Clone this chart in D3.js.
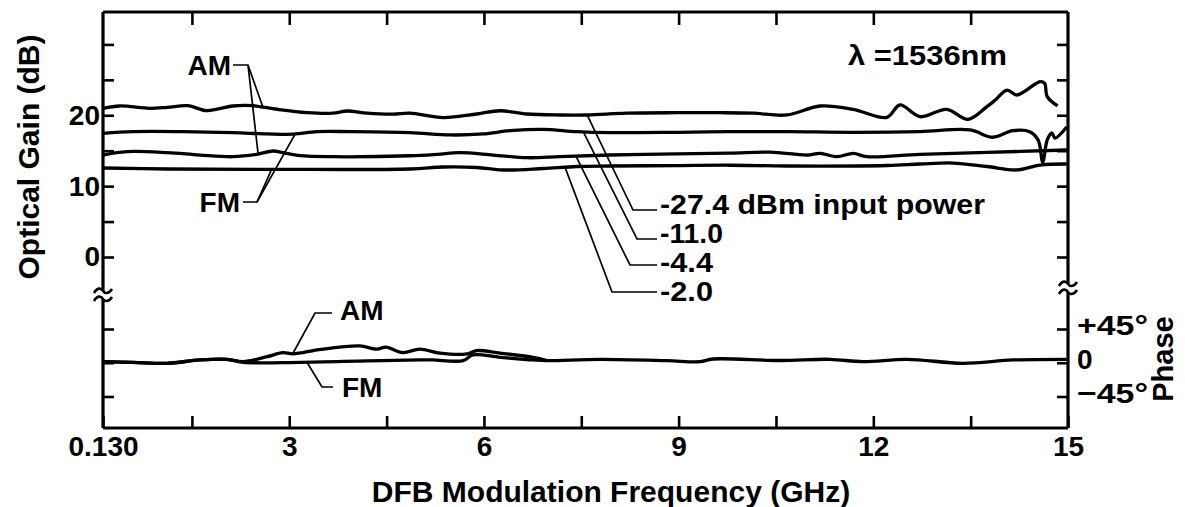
<!DOCTYPE html>
<html>
<head>
<meta charset="utf-8">
<script src="https://cdn.jsdelivr.net/npm/d3@7"></script>
<style>
  html, body { margin: 0; padding: 0; background: #fff; }
  svg { display: block; }
  text { font-family: "Liberation Sans", Arial, Helvetica, sans-serif; font-weight: bold; fill: #000; }
</style>
</head>
<body>
<svg id="chart" width="1185" height="507"></svg>
<script>
// ---------------- DATA ----------------
const xTickValues = [0.13, 1.5, 3, 4.5, 6, 7.5, 9, 10.5, 12, 13.5, 15];
const xTickLabels = ["0.130", "", "3", "", "6", "", "9", "", "12", "", "15"];
const gainTickValues = [0, 5, 10, 15, 20, 25, 30];
const gainTickLabels = ["0", "", "10", "", "20", "", ""];
const phaseTickValues = [-45, 0, 45];
const phaseTickLabels = ["\u221245\u00B0", "0", "+45\u00B0"];

// -27.4 dBm input power (AM)
const am274Freq = [0.13,0.39,0.85,1.12,1.44,1.73,2.13,2.44,2.81,3.27,3.67,3.89,4.20,4.60,4.86,5.37,5.89,6.25,6.66,7.17,7.59,8.20,8.97,9.64,10.15,10.67,11.18,11.69,12.21,12.41,12.72,13.13,13.46,13.75,13.88,14.06,14.21,14.57,14.64,14.68,14.84];
const am274Gain = [20.98,21.31,20.98,21.12,21.35,20.66,21.31,21.35,20.85,20.38,20.29,20.60,20.29,20.15,20.29,19.67,20.18,20.64,20.18,20.04,20.04,20.29,20.36,20.36,20.29,20.04,21.31,20.84,19.71,21.45,19.80,20.84,19.43,21.21,22.15,23.56,22.86,24.74,24.51,22.63,21.31];
// -11.0 dBm (FM)
const fm110Freq = [0.13,0.59,1.36,2.13,2.66,3.06,3.43,3.94,4.86,5.48,5.99,6.40,6.91,7.43,7.94,8.97,9.79,10.67,11.69,12.72,13.49,13.84,14.15,14.41,14.54,14.61,14.68,14.75,14.80,14.98];
const fm110Gain = [17.45,17.69,17.69,17.55,17.37,17.33,17.69,17.69,17.55,17.22,17.36,17.82,18.02,17.69,17.55,17.60,17.69,17.69,17.60,17.69,17.93,16.90,17.82,17.69,16.51,13.40,16.51,17.50,16.79,18.34];
// -4.4 dBm (AM)
const am44Freq = [0.13,0.50,1.12,1.62,2.13,2.50,2.75,2.90,3.17,3.67,4.86,5.28,5.63,6.14,6.66,7.17,7.94,8.97,9.79,10.41,10.98,11.18,11.44,11.69,11.90,12.72,13.75,14.98];
const am44Gain = [14.39,14.87,14.73,14.39,14.15,14.49,14.96,14.73,14.29,14.15,14.29,14.49,14.72,14.39,14.01,14.15,14.39,14.55,14.65,14.80,14.39,14.63,14.15,14.63,14.15,14.49,14.75,15.10];
// -2.0 dBm (FM)
const fm20Freq = [0.13,1.12,2.66,4.86,5.37,5.89,6.29,6.91,7.43,7.94,8.97,9.79,10.67,12.21,12.72,13.23,13.75,14.21,14.57,14.98];
const fm20Gain = [12.56,12.42,12.37,12.42,12.70,12.63,12.28,12.49,12.77,12.84,12.90,12.95,12.84,12.91,13.12,13.26,12.77,12.28,12.98,13.12];

// Phase (degrees)
const phaseAMFreq = [0.13,0.59,1.12,1.62,2.04,2.29,2.66,2.90,3.06,3.43,3.78,4.09,4.35,4.49,4.75,5.01,5.32,5.74,5.89,6.25,6.76,6.97];
const phaseAMDeg  = [1.4,0.6,-0.7,3.7,4.6,1.4,8.1,13.5,11.8,17.1,20.8,22.5,18.1,20.8,13.5,18.1,12.7,11.8,16.2,12.7,7.3,2.8];
const phaseFMFreq = [0.13,0.59,1.12,1.62,2.04,2.29,3.17,4.20,5.01,5.21,5.68,5.83,6.25,6.76,6.97,7.79,8.82,9.33,9.53,10.56,11.33,11.84,12.52,13.38,14.15,14.98];
const phaseFMDeg  = [1.4,0.6,-0.7,3.7,4.6,0.6,0.6,2.4,3.7,3.7,2.8,10.4,7.3,3.7,2.8,4.6,2.8,1.4,5.0,3.0,4.6,1.4,4.6,-0.7,3.7,4.6];

const powerLabels = ["-27.4 dBm input power", "-11.0", "-4.4", "-2.0"];

// ---------------- CHART ----------------
const svg = d3.select("#chart");
const L = 103, R = 1068, T = 12, B = 428;

const x = d3.scaleLinear().domain([0.13, 15]).range([L, R]);
const yG = d3.scaleLinear().domain([0, 30]).range([257, 44.4]);
const yP = d3.scaleLinear().domain([-45, 45]).range([396.5, 329]);

const zip = (a, b) => a.map((v, i) => [v, b[i]]);

// Axes (ticks inward)
function styleAxis(g) {
  g.select(".domain").remove();
  g.selectAll(".tick line").attr("stroke", "#000").attr("stroke-width", 2.6);
  g.selectAll(".tick text").style("font-size", "28px").style("font-family", "'Liberation Sans', Arial, sans-serif").style("font-weight", "bold").attr("fill", "#000");
}
svg.append("g").attr("transform", `translate(0,${B})`)
  .call(d3.axisBottom(x).tickValues(xTickValues).tickSize(-12).tickPadding(8)
    .tickFormat((d, i) => xTickLabels[i]))
  .call(styleAxis);
svg.append("g").attr("transform", `translate(0,${T})`)
  .call(d3.axisTop(x).tickValues(xTickValues.slice(1, -1)).tickSize(-13).tickFormat(""))
  .call(styleAxis);
svg.append("g").attr("transform", `translate(${L},0)`)
  .call(d3.axisLeft(yG).tickValues(gainTickValues).tickSize(-11).tickPadding(3)
    .tickFormat((d, i) => gainTickLabels[i]))
  .call(styleAxis);
svg.append("g").attr("transform", `translate(${R},0)`)
  .call(d3.axisRight(yG).tickValues(gainTickValues).tickSize(-11).tickFormat(""))
  .call(styleAxis);
svg.append("g").attr("transform", `translate(${L},0)`)
  .call(d3.axisLeft(yP).tickValues(phaseTickValues).tickSize(-11).tickFormat(""))
  .call(styleAxis);
svg.append("g").attr("transform", `translate(${R},0)`)
  .call(d3.axisRight(yP).tickValues(phaseTickValues).tickSize(-11).tickPadding(9)
    .tickFormat((d, i) => phaseTickLabels[i]))
  .call(styleAxis)
  .call(g => g.selectAll(".tick text").attr("dy", "0.2em")
    .each(function (d) { if (d !== 0) d3.select(this).attr("textLength", 71).attr("lengthAdjust", "spacingAndGlyphs"); }));

// Frame with axis breaks
const frame = svg.append("g").attr("fill", "none").attr("stroke", "#000").attr("stroke-width", 3.2);
frame.append("line").attr("x1", L).attr("x2", R).attr("y1", T).attr("y2", T);
frame.append("line").attr("x1", L).attr("x2", R).attr("y1", B).attr("y2", B);
function vAxisWithBreak(xx, b1, b2) {
  frame.append("line").attr("x1", xx).attr("x2", xx).attr("y1", T).attr("y2", b1);
  frame.append("line").attr("x1", xx).attr("x2", xx).attr("y1", b2).attr("y2", B);
  const sq = (yy) => `M${xx - 9},${yy + 2} C${xx - 5},${yy - 5} ${xx - 1},${yy - 2} ${xx},${yy} S${xx + 5},${yy + 4} ${xx + 9},${yy - 2}`;
  frame.append("path").attr("d", sq(b1)).attr("stroke-width", 2.6);
  frame.append("path").attr("d", sq(b2)).attr("stroke-width", 2.6);
}
vAxisWithBreak(L, 291, 299);
vAxisWithBreak(R, 284, 292);

// Data curves
const lineG = d3.line().x(d => x(d[0])).y(d => yG(d[1])).curve(d3.curveCatmullRom.alpha(0.5));
const lineP = d3.line().x(d => x(d[0])).y(d => yP(d[1])).curve(d3.curveCatmullRom.alpha(0.5));
const curves = svg.append("g").attr("fill", "none").attr("stroke", "#000").attr("stroke-width", 3.3).attr("stroke-linejoin", "round");
[[am274Freq, am274Gain], [fm110Freq, fm110Gain], [am44Freq, am44Gain], [fm20Freq, fm20Gain]]
  .forEach(([f, g]) => curves.append("path").attr("d", lineG(zip(f, g))));
curves.append("path").attr("d", lineP(zip(phaseFMFreq, phaseFMDeg)));
curves.append("path").attr("d", lineP(zip(phaseAMFreq, phaseAMDeg)));

// Annotations
const ann = svg.append("g");
const lead = svg.append("g").attr("fill", "none").attr("stroke", "#000").attr("stroke-width", 1.7);
const poly = pts => lead.append("path").attr("d", d3.line()(pts));
function label(txt, xx, yy, anchor, size, len) {
  const t = ann.append("text").attr("x", xx).attr("y", yy).attr("text-anchor", anchor || "start")
    .style("font-size", (size || 27) + "px").text(txt);
  if (len) t.attr("textLength", len).attr("lengthAdjust", "spacingAndGlyphs");
}

// AM / FM gain labels
label("AM", 231, 75, "end", 28);
poly([[233, 65], [248, 65], [x(2.60), yG(21.0)]]);
poly([[248, 65], [x(2.52), yG(14.55)]]);
label("FM", 240, 212, "end", 28);
poly([[243, 202], [257, 202], [x(2.73), yG(12.4)]]);
poly([[257, 202], [x(3.09), yG(17.35)]]);

// Power labels with leaders
const powerTargets = [[7.59, 20.04, 633, 210], [7.53, 17.69, 637, 239], [7.42, 14.2, 630, 265], [7.25, 12.65, 612, 292]];
const powerBaselines = [214, 243, 272, 301];
const powerWidths = [325, 63, 53, 53];
powerLabels.forEach((t, i) => {
  const [f, g, ex, ey] = powerTargets[i];
  label(t, 660, powerBaselines[i], "start", 27, powerWidths[i]);
  poly([[x(f), yG(g)], [ex, ey], [657, ey]]);
});

// lambda
label("\u03BB =1536nm", 848, 65, "start", 27, 159);

// Phase AM/FM labels
label("AM", 340, 320, "start", 28);
poly([[332, 313], [315, 313], [x(3.06), yP(13)]]);
label("FM", 342, 397, "start", 28);
poly([[333, 387], [322, 387], [x(3.27), yP(1)]]);

// Axis titles
svg.append("text").attr("transform", "translate(28,157) rotate(-90)").attr("text-anchor", "middle")
  .attr("dominant-baseline", "central").style("font-size", "30px").text("Optical Gain (dB)");
svg.append("text").attr("transform", "translate(1163,359) rotate(-90)").attr("text-anchor", "middle")
  .attr("dominant-baseline", "central").style("font-size", "29px").text("Phase");
svg.append("text").attr("x", 611).attr("y", 502).attr("text-anchor", "middle")
  .style("font-size", "30px").text("DFB Modulation Frequency (GHz)");
</script>
</body>
</html>
